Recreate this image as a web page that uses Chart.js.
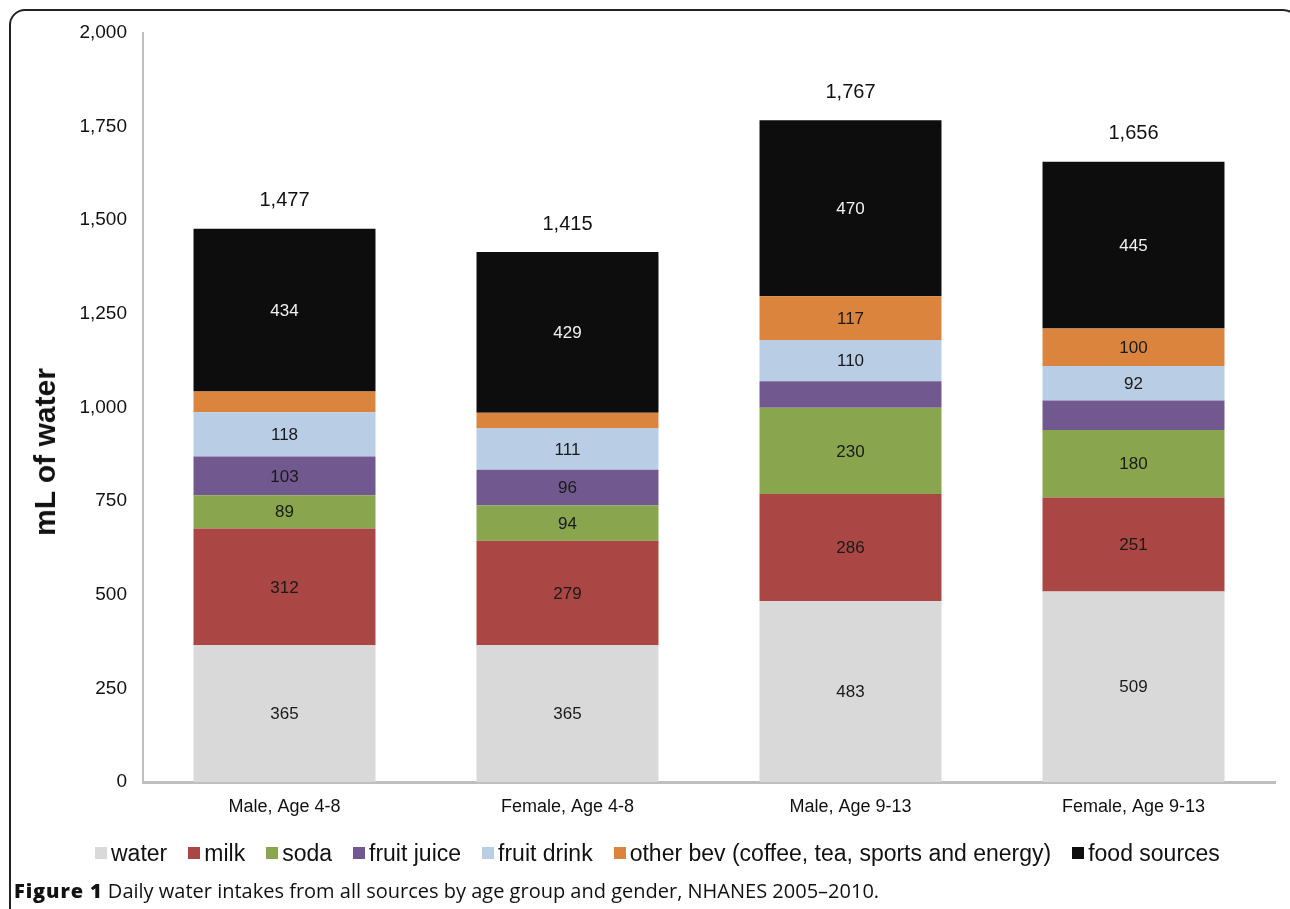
<!DOCTYPE html>
<html>
<head>
<meta charset="utf-8">
<script src="https://cdn.jsdelivr.net/npm/chart.js@4.4.1/dist/chart.umd.min.js"></script>
<style>
  html, body { margin: 0; padding: 0; background: #fff; overflow: hidden; }
  body { width: 1290px; height: 909px; position: relative; font-family: "Liberation Sans", Arial, sans-serif; }
  #frame { position: absolute; left: 9px; top: 9px; width: 1290px; height: 1000px; border: 2px solid #222; border-radius: 16px; box-sizing: border-box; }
  #wrap { position: absolute; left: 0; top: 0; width: 1290px; height: 909px; }
  #ytitle { position: absolute; left: 45px; top: 452px; transform: translate(-50%, -50%) rotate(-90deg); font: bold 30px "Liberation Sans", Arial, sans-serif; color: #111; white-space: nowrap; }
  #legend { position: absolute; left: 95px; top: 839px; height: 28px; display: flex; align-items: center; white-space: nowrap; font: 23px "Liberation Sans", Arial, sans-serif; color: #111; }
  #legend .item { display: flex; align-items: center; margin-right: 21px; }
  #legend .box { width: 12px; height: 12px; margin-right: 4px; margin-top: 0px; }
  #caption { position: absolute; left: 14px; top: 879px; font: 20px "Open Sans", "Noto Sans", sans-serif; color: #111; white-space: nowrap; line-height: 24px; }
  #caption b { font-weight: 800; letter-spacing: 0.9px; }
</style>
</head>
<body>
<div id="frame"></div>
<div id="wrap"><canvas id="c"></canvas></div>
<div id="ytitle">mL of water</div>
<div id="legend"></div>
<div id="caption"><b>Figure 1</b> Daily water intakes from all sources by age group and gender, NHANES 2005–2010.</div>
<script>
const categories = ["Male, Age 4-8", "Female, Age 4-8", "Male, Age 9-13", "Female, Age 9-13"];
const seriesNames = ["water", "milk", "soda", "fruit juice", "fruit drink", "other bev (coffee, tea, sports and energy)", "food sources"];
const water = [365, 365, 483, 509];
const milk = [312, 279, 286, 251];
const soda = [89, 94, 230, 180];
const fruitJuice = [103, 96, 71, 79];
const fruitDrink = [118, 111, 110, 92];
const otherBev = [56, 41, 117, 100];
const foodSources = [434, 429, 470, 445];
const totals = [1477, 1415, 1767, 1656];
const yTicks = [0, 250, 500, 750, 1000, 1250, 1500, 1750, 2000];
const seriesColors = ["#d9d9d9", "#aa4643", "#89a54e", "#71588f", "#b9cde5", "#db843d", "#0d0d0d"];
const labelMin = 85;

const seriesValues = [water, milk, soda, fruitJuice, fruitDrink, otherBev, foodSources];

const legend = document.getElementById('legend');
seriesNames.forEach((n, i) => {
  const it = document.createElement('div'); it.className = 'item';
  const b = document.createElement('div'); b.className = 'box'; b.style.background = seriesColors[i];
  const t = document.createElement('span'); t.textContent = n;
  it.appendChild(b); it.appendChild(t); legend.appendChild(it);
});

const labelPlugin = {
  id: 'segLabels',
  afterDatasetsDraw(chart) {
    const ctx = chart.ctx;
    ctx.save();
    ctx.textAlign = 'center';
    ctx.textBaseline = 'middle';
    ctx.font = '17px "Liberation Sans", Arial, sans-serif';
    chart.data.datasets.forEach((ds, i) => {
      const meta = chart.getDatasetMeta(i);
      meta.data.forEach((el, j) => {
        const v = ds.data[j];
        if (v < labelMin) return;
        ctx.fillStyle = i === seriesValues.length - 1 ? '#f2f2f2' : '#1a1a1a';
        ctx.fillText(String(v), el.x, (el.y + el.base) / 2 + 1);
      });
    });
    const top = chart.getDatasetMeta(chart.data.datasets.length - 1);
    ctx.font = '20px "Liberation Sans", Arial, sans-serif';
    ctx.fillStyle = '#111';
    top.data.forEach((el, j) => {
      ctx.fillText(totals[j].toLocaleString('en-US'), el.x, el.y - 28);
    });
    ctx.restore();
  }
};

new Chart(document.getElementById('c'), {
  type: 'bar',
  data: {
    labels: categories,
    datasets: seriesNames.map((n, i) => ({
      label: n,
      data: seriesValues[i],
      backgroundColor: seriesColors[i],
      borderWidth: 0,
      categoryPercentage: 1.0,
      barPercentage: 0.643
    }))
  },
  options: {
    responsive: true,
    maintainAspectRatio: false,
    animation: false,
    devicePixelRatio: 1,
    layout: { padding: { left: 0, right: 15, top: 33, bottom: 87 } },
    plugins: { legend: { display: false }, tooltip: { enabled: false } },
    scales: {
      x: {
        stacked: true,
        grid: { display: false, drawTicks: false },
        border: { display: true, color: '#bfbfbf', width: 3 },
        ticks: { color: '#111', font: { size: 18, family: '"Liberation Sans", Arial, sans-serif' }, padding: 14 },
        afterFit(s) { s.height = 40; }
      },
      y: {
        stacked: true,
        min: 0, max: 2000,
        grid: { display: false, drawTicks: false },
        border: { display: true, color: '#bfbfbf', width: 2 },
        afterBuildTicks(s) { s.ticks = yTicks.map(v => ({ value: v })); },
        ticks: {
          color: '#111',
          font: { size: 19, family: '"Liberation Sans", Arial, sans-serif' },
          padding: 16,
          callback: v => Number(v).toLocaleString('en-US')
        },
        afterFit(s) { s.width = 143; }
      }
    }
  },
  plugins: [labelPlugin]
});
</script>
</body>
</html>
